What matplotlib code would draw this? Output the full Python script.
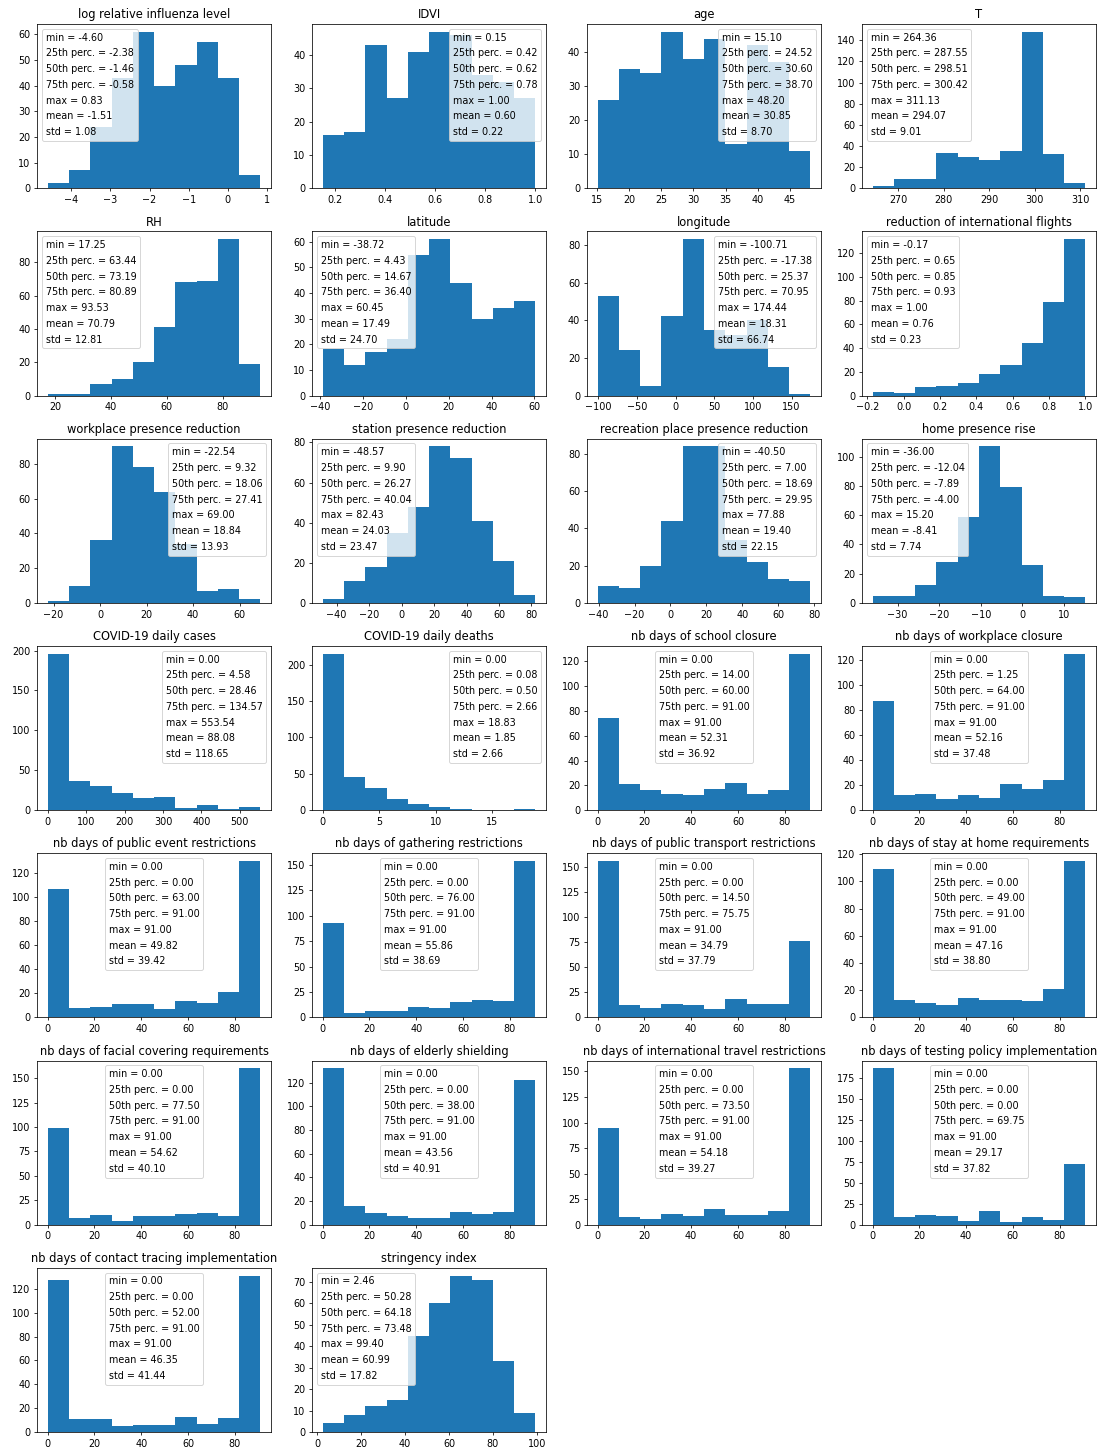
#! /usr/bin/env python3
# coding: utf-8

import matplotlib
matplotlib.use('Agg')
import matplotlib.pyplot as plt
from matplotlib.patches import Rectangle
import numpy as np

# titles of the 26 panels
TITLES = [
    'log relative influenza level', 'IDVI', 'age', 'T',
    'RH', 'latitude', 'longitude', 'reduction of international flights',
    'workplace presence reduction', 'station presence reduction',
    'recreation place presence reduction', 'home presence rise',
    'COVID-19 daily cases', 'COVID-19 daily deaths',
    'nb days of school closure', 'nb days of workplace closure',
    'nb days of public event restrictions', 'nb days of gathering restrictions',
    'nb days of public transport restrictions', 'nb days of stay at home requirements',
    'nb days of facial covering requirements', 'nb days of elderly shielding',
    'nb days of international travel restrictions', 'nb days of testing policy implementation',
    'nb days of contact tracing implementation', 'stringency index',
]

# summary statistics: min, 25th, 50th, 75th, max, mean, std
STATS = [
    [-4.60, -2.38, -1.46, -0.58, 0.83, -1.51, 1.08],
    [0.15, 0.42, 0.62, 0.78, 1.00, 0.60, 0.22],
    [15.10, 24.52, 30.60, 38.70, 48.20, 30.85, 8.70],
    [264.36, 287.55, 298.51, 300.42, 311.13, 294.07, 9.01],
    [17.25, 63.44, 73.19, 80.89, 93.53, 70.79, 12.81],
    [-38.72, 4.43, 14.67, 36.40, 60.45, 17.49, 24.70],
    [-100.71, -17.38, 25.37, 70.95, 174.44, 18.31, 66.74],
    [-0.17, 0.65, 0.85, 0.93, 1.00, 0.76, 0.23],
    [-22.54, 9.32, 18.06, 27.41, 69.00, 18.84, 13.93],
    [-48.57, 9.90, 26.27, 40.04, 82.43, 24.03, 23.47],
    [-40.50, 7.00, 18.69, 29.95, 77.88, 19.40, 22.15],
    [-36.00, -12.04, -7.89, -4.00, 15.20, -8.41, 7.74],
    [0.00, 4.58, 28.46, 134.57, 553.54, 88.08, 118.65],
    [0.00, 0.08, 0.50, 2.66, 18.83, 1.85, 2.66],
    [0.00, 14.00, 60.00, 91.00, 91.00, 52.31, 36.92],
    [0.00, 1.25, 64.00, 91.00, 91.00, 52.16, 37.48],
    [0.00, 0.00, 63.00, 91.00, 91.00, 49.82, 39.42],
    [0.00, 0.00, 76.00, 91.00, 91.00, 55.86, 38.69],
    [0.00, 0.00, 14.50, 75.75, 91.00, 34.79, 37.79],
    [0.00, 0.00, 49.00, 91.00, 91.00, 47.16, 38.80],
    [0.00, 0.00, 77.50, 91.00, 91.00, 54.62, 40.10],
    [0.00, 0.00, 38.00, 91.00, 91.00, 43.56, 40.91],
    [0.00, 0.00, 73.50, 91.00, 91.00, 54.18, 39.27],
    [0.00, 0.00, 0.00, 69.75, 91.00, 29.17, 37.82],
    [0.00, 0.00, 52.00, 91.00, 91.00, 46.35, 41.44],
    [2.46, 50.28, 64.18, 73.48, 99.40, 60.99, 17.82],
]

# histogram counts (10 bins between min and max)
COUNTS = [
    [2, 7, 24, 43, 61, 40, 48, 57, 43, 5],
    [16, 17, 43, 27, 41, 47, 46, 34, 32, 27],
    [26, 35, 34, 46, 38, 44, 13, 42, 37, 11],
    [2, 9, 9, 33, 30, 27, 35, 148, 32, 5],
    [1, 1, 7, 10, 20, 41, 68, 69, 94, 19],
    [18, 12, 17, 22, 55, 61, 44, 30, 34, 37],
    [53, 24, 5, 42, 83, 35, 32, 40, 15, 1],
    [3, 2, 7, 8, 11, 18, 26, 44, 79, 132],
    [1, 10, 36, 90, 78, 64, 34, 7, 8, 2],
    [2, 11, 18, 35, 48, 78, 72, 41, 21, 4],
    [9, 8, 20, 44, 84, 84, 34, 22, 13, 12],
    [5, 5, 12, 28, 59, 107, 79, 26, 5, 4],
    [196, 36, 30, 21, 15, 16, 3, 7, 2, 4],
    [215, 45, 30, 15, 8, 5, 2, 0, 0, 1],
    [74, 21, 16, 13, 12, 17, 22, 13, 16, 126],
    [87, 12, 13, 9, 12, 10, 21, 17, 24, 125],
    [107, 8, 9, 11, 11, 7, 14, 12, 21, 130],
    [93, 4, 6, 6, 10, 9, 15, 17, 16, 154],
    [156, 12, 9, 13, 12, 8, 18, 13, 13, 76],
    [109, 13, 11, 9, 14, 13, 13, 12, 21, 115],
    [99, 7, 10, 4, 9, 9, 11, 12, 9, 160],
    [132, 16, 10, 7, 6, 6, 11, 9, 11, 122],
    [95, 8, 6, 11, 9, 15, 10, 10, 13, 153],
    [187, 9, 12, 10, 5, 16, 3, 9, 6, 73],
    [127, 11, 11, 5, 6, 6, 13, 7, 12, 131],
    [4, 8, 12, 15, 45, 60, 73, 71, 33, 9],
]

LEGEND_LOC = [
    'upper left', 'upper right', 'upper right', 'upper left',
    'upper left', 'upper left', 'upper right', 'upper left',
    'upper right', 'upper left', 'upper right', 'upper left',
    'upper right', 'upper right', 'upper center', 'upper center',
    'upper center', 'upper center', 'upper center', 'upper center',
    'upper center', 'upper center', 'upper center', 'upper center',
    'upper center', 'upper left',
]

STAT_NAMES = ['min', '25th perc.', '50th perc.', '75th perc.', 'max', 'mean', 'std']

DPI = 1106 / 16


def plot():
    fig, axes = plt.subplots(7, 4, figsize=(16, 1449 / DPI))
    axes = axes.flatten()
    for i, ax in enumerate(axes):
        if i >= len(TITLES):
            ax.axis('off')
            continue
        stats = STATS[i]
        edges = np.linspace(stats[0], stats[4], len(COUNTS[i]) + 1)
        ax.hist(edges[:-1], bins=edges, weights=COUNTS[i])
        ax.set_title(TITLES[i])
        labels = ['{} = {:.2f}'.format(n, v) for n, v in zip(STAT_NAMES, stats)]
        handles = [Rectangle((0, 0), 1, 1, visible=False) for _ in labels]
        ax.legend(handles, labels, loc=LEGEND_LOC[i], handlelength=0,
                  handletextpad=0, labelspacing=0.6)
    fig.subplots_adjust(left=0.0335, right=0.991, top=0.9834, bottom=0.0117,
                        wspace=0.175, hspace=0.262)
    fig.savefig('out.png', dpi=DPI)


if __name__ == '__main__':
    plot()
